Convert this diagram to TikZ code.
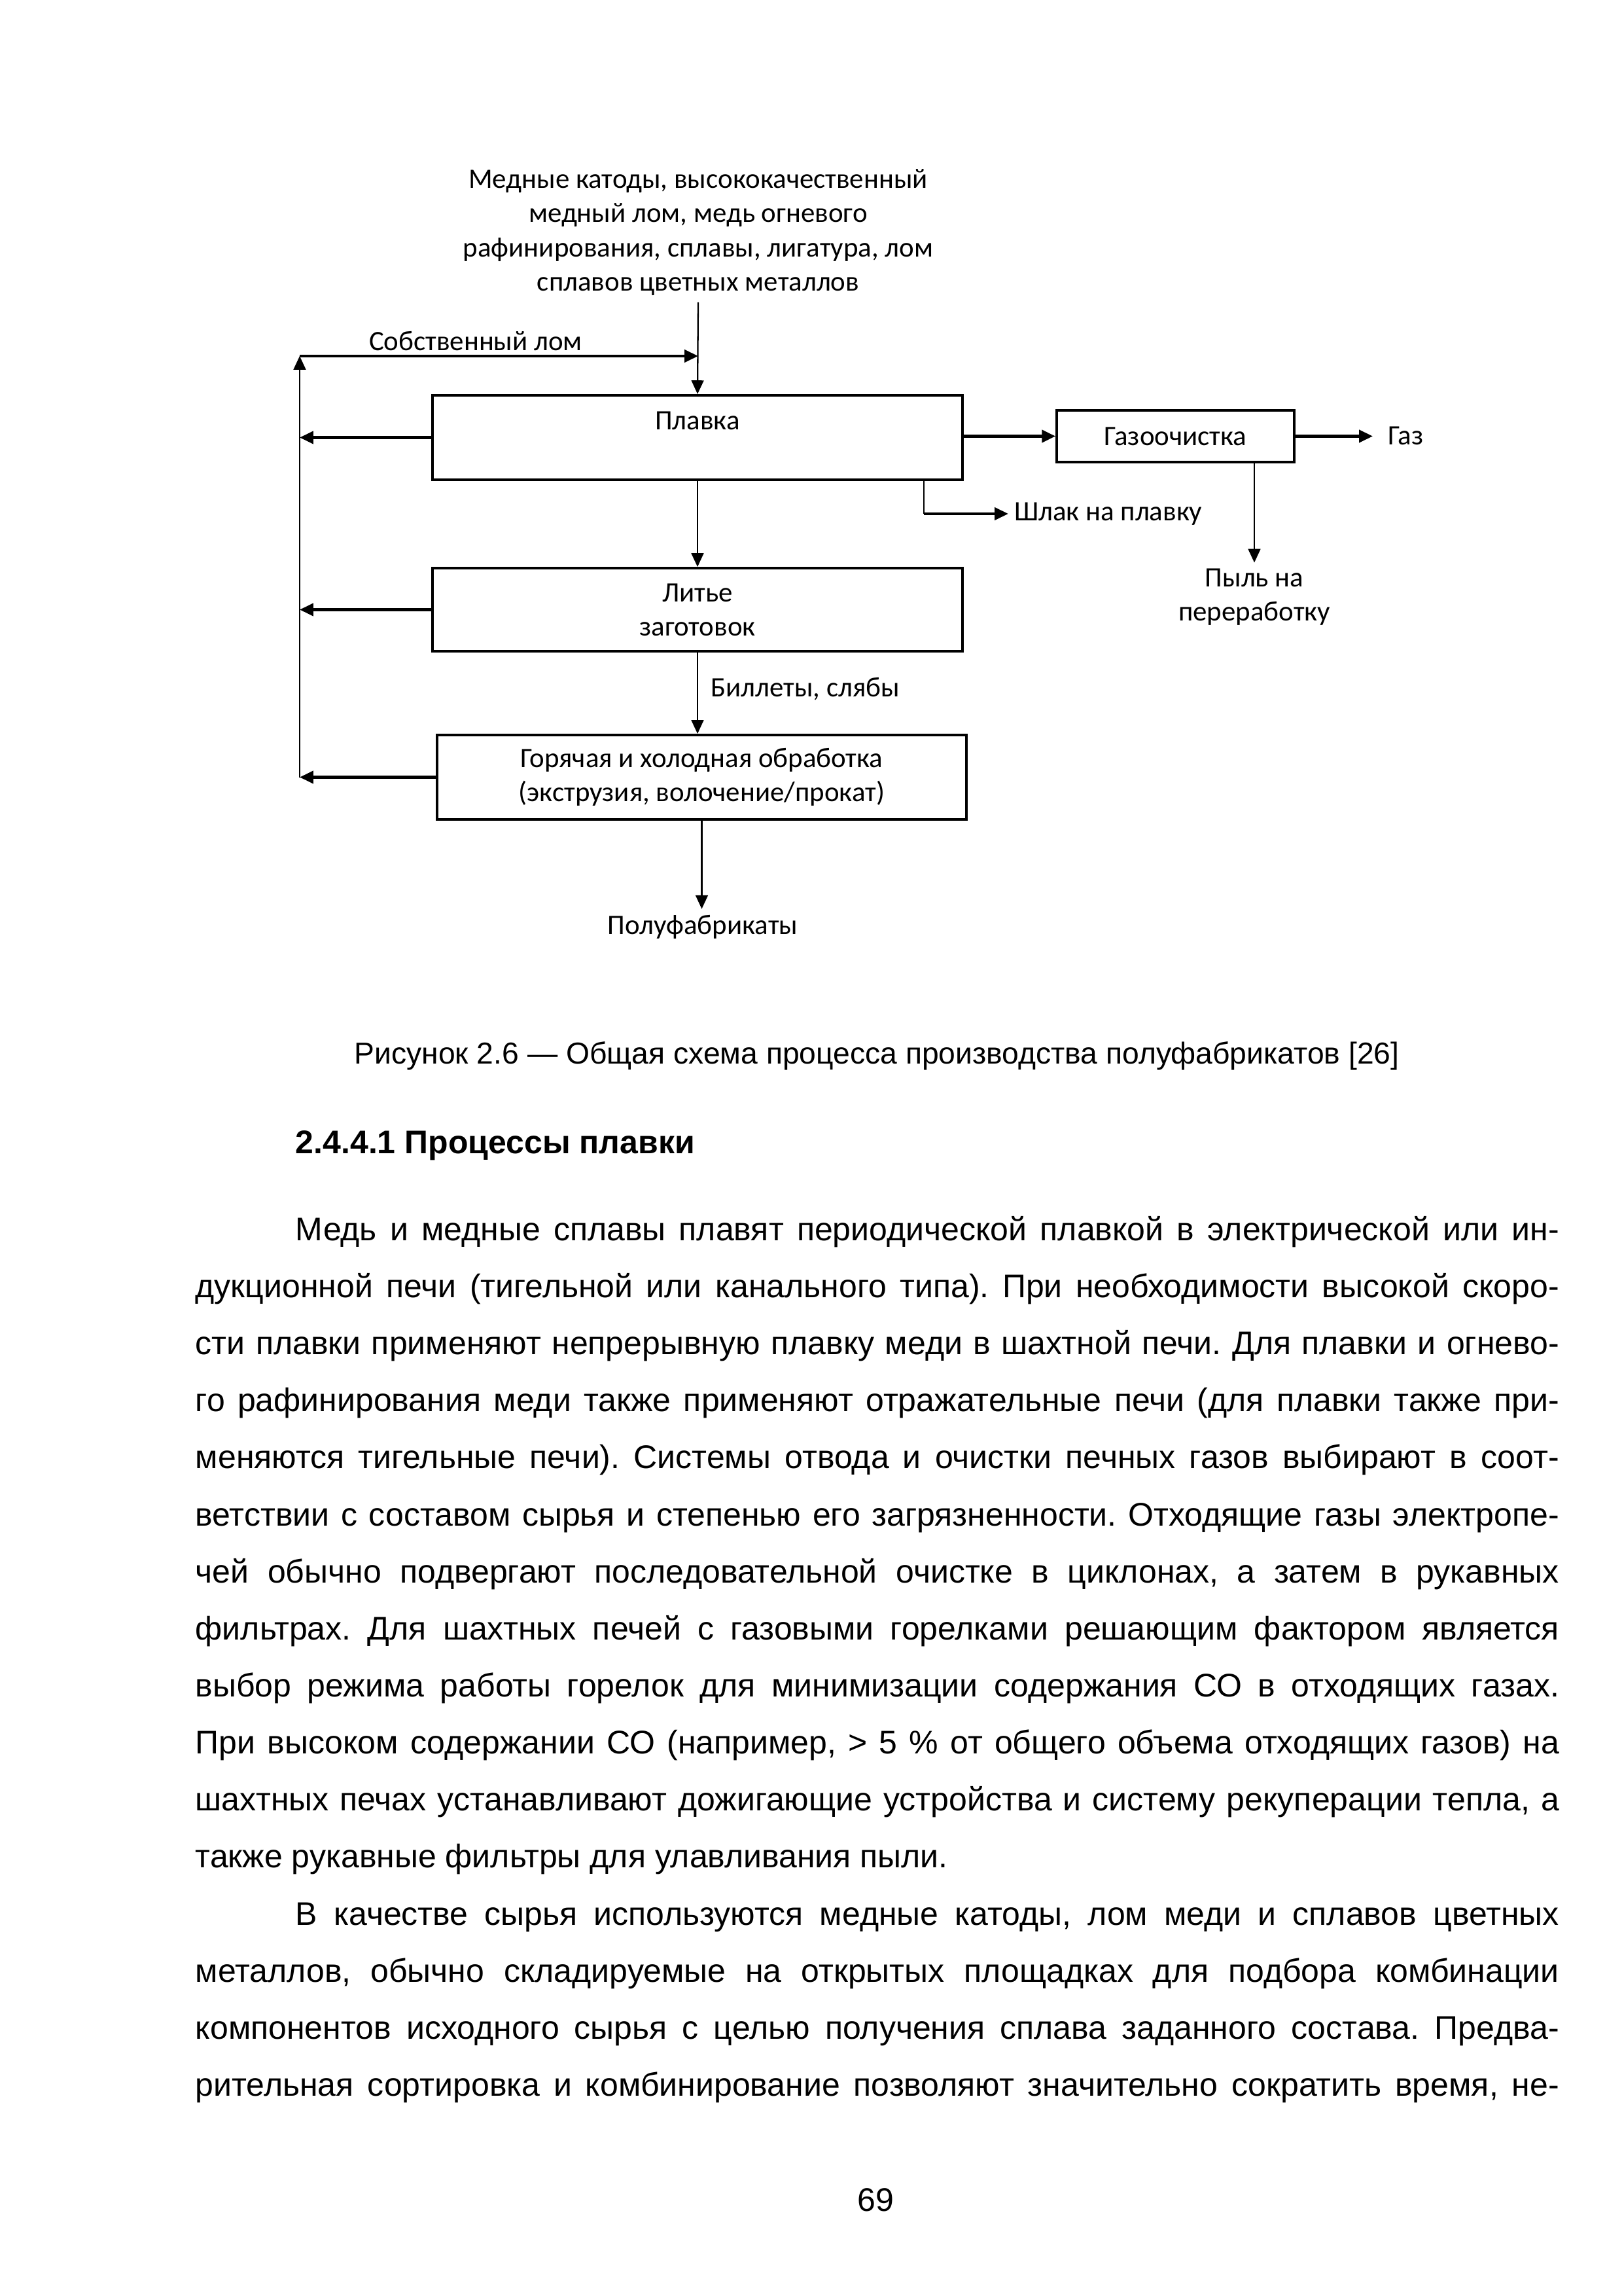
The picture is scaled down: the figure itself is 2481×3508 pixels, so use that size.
\documentclass[tikz,border=0pt]{standalone}
\usepackage{fontspec}
\setmainfont{Liberation Sans}
\newfontfamily\diagfont{Carlito}
\usetikzlibrary{arrows.meta}
\frenchspacing
\newcommand{\jline}[1]{\makebox[500.16pt][s]{#1}}
\newcommand{\jind}[1]{\makebox[463.4pt][s]{#1}}
\begin{document}
\frenchspacing
\begin{tikzpicture}[x=0.24pt,y=-0.24pt,
  box/.style={draw, line width=0.9pt, inner sep=0pt},
  dtxt/.style={font=\diagfont\fontsize{10.3pt}{12.5pt}\selectfont, align=center, inner sep=2pt},
  fat/.style={line width=1.1pt, -{Triangle[length=5pt,width=4.5pt]}},
  slim/.style={line width=0.55pt, -{Triangle[length=5pt,width=4.5pt]}},
  body/.style={font=\fontsize{12pt}{14pt}\selectfont, anchor=base west, inner sep=0pt},
]
\useasboundingbox (0,0) rectangle (2481,3508);
% ---------- diagram ----------
\node[dtxt] (src) at (1067,355) {Медные катоды, высококачественный\\медный лом, медь огневого\\рафинирования, сплавы, лигатура, лом\\сплавов цветных металлов};
\node[box, minimum width=194.4pt, minimum height=31pt] (plavka) at (1066,668.5) {};
\node[dtxt] (plavkaT) at (1066,643) {Плавка};
\node[box, minimum width=194.4pt, minimum height=30.5pt, dtxt] (litje) at (1066,931.5) {Литье\\заготовок};
\node[box, minimum width=194.2pt, minimum height=31pt, dtxt] (gor) at (1072.5,1187.5) {Горячая и холодная обработка\\(экструзия, волочение/прокат)};
\node[box, minimum width=87.1pt, minimum height=19pt, dtxt] (gaz) at (1796.5,666.5) {Газоочистка};
\node[dtxt, anchor=west] (gazT) at (2112,666) {Газ};
\node[dtxt] (pyl) at (1917,912) {Пыль на\\переработку};
\node[dtxt, anchor=west] (shlak) at (1541,785) {Шлак на плавку};
\node[dtxt, anchor=west] (bil) at (1077,1053) {Биллеты, слябы};
\node[dtxt] (polu) at (1074,1416) {Полуфабрикаты};
\node[dtxt] (sobst) at (727,521) {Собственный лом};
\coordinate (in0) at (1067,462);
\coordinate (fbtop) at (458,544);
\coordinate (fbend) at (1067,544);
\coordinate (fbbot) at (458,1187.5);
\coordinate (shl) at (1412,785);
\coordinate (gazout) at (2098,666.5);
\coordinate (pylx) at (1917,0);
\draw[slim] (in0) -- (plavka.north);
\draw[slim] (fbbot) -- (fbtop);
\draw[fat] (fbtop) -- (fbend);
\draw[fat] (plavka.west) -- (plavka.west -| fbtop);
\draw[fat] (litje.west) -- (litje.west -| fbtop);
\draw[fat] (gor.west) -- (gor.west -| fbtop);
\draw[fat] (gaz.west -| plavka.east) -- (gaz.west);
\draw[fat] (gaz.east) -- (gazout);
\draw[slim] (gaz.south -| pylx) -- (pyl.north);
\draw[line width=0.55pt] (plavka.south -| shl) -- (shl);
\draw[fat] (shl) -- (shlak.west);
\draw[slim] (plavka.south) -- (litje.north);
\draw[slim] (litje.south) -- (litje.south |- gor.north);
\draw[slim] (gor.south) -- (gor.south |- polu.north);
% ---------- page text ----------
\node[font=\fontsize{11.1pt}{13pt}\selectfont, inner sep=0pt] (cap) at (1340,1613) {Рисунок 2.6 — Общая схема процесса производства полуфабрикатов [26]};
\node[body, font=\fontsize{12pt}{14pt}\selectfont\bfseries] (head) at (451,1762) {2.4.4.1 Процессы плавки};
\node[body] (l1) at (451,1895) {\jind{Медь и медные сплавы плавят периодической плавкой в электрической или ин-}};
\node[body] (l2) at (298,1982) {\jline{дукционной печи (тигельной или канального типа). При необходимости высокой скоро-}};
\node[body] (l3) at (298,2069) {\jline{сти плавки применяют непрерывную плавку меди в шахтной печи. Для плавки и огнево-}};
\node[body] (l4) at (298,2156) {\jline{го рафинирования меди также применяют отражательные печи (для плавки также при-}};
\node[body] (l5) at (298,2243) {\jline{меняются тигельные печи). Системы отвода и очистки печных газов выбирают в соот-}};
\node[body] (l6) at (298,2331) {\jline{ветствии с составом сырья и степенью его загрязненности. Отходящие газы электропе-}};
\node[body] (l7) at (298,2418) {\jline{чей обычно подвергают последовательной очистке в циклонах, а затем в рукавных}};
\node[body] (l8) at (298,2505) {\jline{фильтрах. Для шахтных печей с газовыми горелками решающим фактором является}};
\node[body] (l9) at (298,2592) {\jline{выбор режима работы горелок для минимизации содержания СО в отходящих газах.}};
\node[body] (l10) at (298,2679) {\jline{При высоком содержании СО (например, > 5 \% от общего объема отходящих газов) на}};
\node[body] (l11) at (298,2766) {\jline{шахтных печах устанавливают дожигающие устройства и систему рекуперации тепла, а}};
\node[body] (l12) at (298,2853) {также рукавные фильтры для улавливания пыли.};
\node[body] (l13) at (451,2941) {\jind{В качестве сырья используются медные катоды, лом меди и сплавов цветных}};
\node[body] (l14) at (298,3028) {\jline{металлов, обычно складируемые на открытых площадках для подбора комбинации}};
\node[body] (l15) at (298,3115) {\jline{компонентов исходного сырья с целью получения сплава заданного состава. Предва-}};
\node[body] (l16) at (298,3202) {\jline{рительная сортировка и комбинирование позволяют значительно сократить время, не-}};
\node[font=\fontsize{12pt}{14pt}\selectfont, inner sep=0pt] (pg) at (1338,3361) {69};
\end{tikzpicture}
\end{document}
